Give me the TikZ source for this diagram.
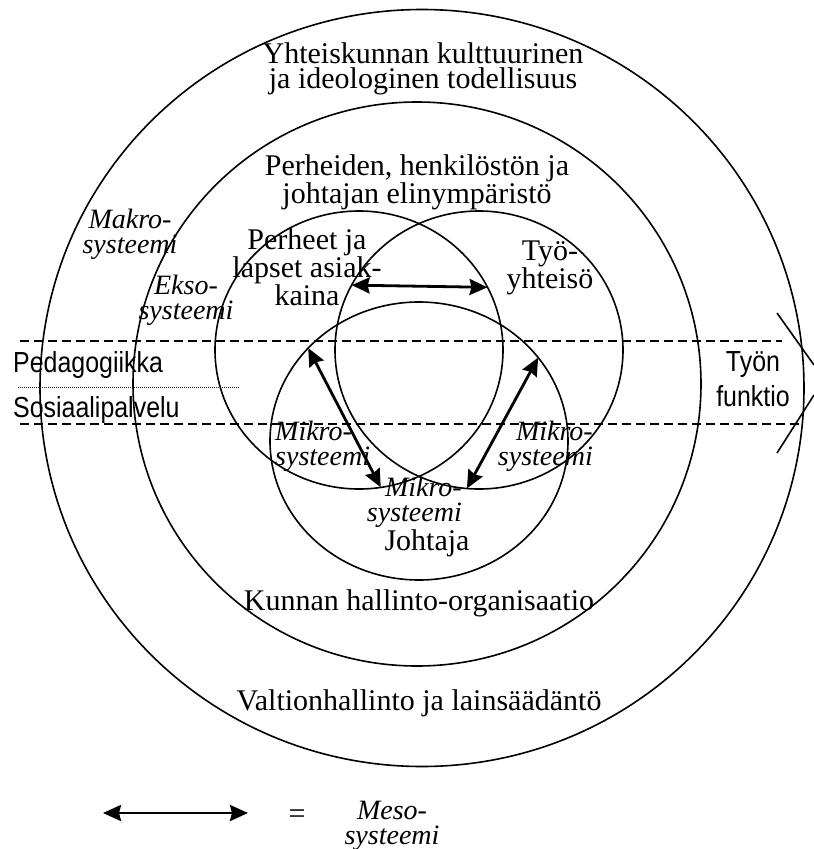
\documentclass[tikz,border=0pt]{standalone}
\usepackage{fontspec}
\setmainfont{Liberation Serif}
\newfontfamily\narrowsans[FakeStretch=0.86]{Liberation Sans}
\usetikzlibrary{shapes.geometric, arrows.meta, positioning}

\begin{document}
\begin{tikzpicture}[x=1pt, y=-1pt,
    ring/.style={ellipse, draw=black, line width=1.6pt, inner sep=0pt, outer sep=0pt},
    bigtext/.style={font=\fontsize{30}{25.5}\selectfont, align=center, inner sep=0pt},
    systext/.style={font=\fontsize{28}{25}\selectfont\itshape, align=center, inner sep=0pt},
    sanstext/.style={font=\fontsize{29}{35}\selectfont\narrowsans, align=center, inner sep=0pt},
    arrow/.style={{Stealth[length=18pt,width=16pt,inset=2pt]}-{Stealth[length=18pt,width=16pt,inset=2pt]}, line width=2.8pt},
    divider/.style={dash pattern=on 9pt off 5pt, line width=1.5pt}
]
    \useasboundingbox (0,0) rectangle (814,849);

    % Rings
    \node[ring, minimum width=764pt, minimum height=757pt] (makro) at (422,388) {};
    \node[ring, minimum width=568pt, minimum height=564pt] (ekso) at (417,384) {};
    \node[ring, minimum width=288pt, minimum height=278pt] (perheet) at (359,350) {};
    \node[ring, minimum width=288pt, minimum height=278pt] (tyo) at (479,350) {};
    \node[ring, minimum width=298pt, minimum height=278pt] (johtaja) at (419,441) {};

    % Work function band
    \coordinate (bandTL) at (20,341);
    \coordinate (bandTR) at (782,341);
    \coordinate (bandBL) at (20,424);
    \coordinate (bandBR) at (802,424);
    \draw[divider] (bandTL) -- (bandTR);
    \draw[divider] (bandBL) -- (bandBR);
    \draw[line width=1pt, black!85, dash pattern=on 1pt off 1pt] (18,387) -- (240,387);
    \draw[line width=1.6pt] (777,313) -- (814,365);
    \draw[line width=1.6pt] (777,453) -- (814,395);

    \node[sanstext, anchor=west] (pedagogiikka) at (13,365) {Pedagogiikka};
    \node[sanstext, anchor=west] (sosiaali) at (13,410) {Sosiaalipalvelu};
    \node[sanstext] (funktio) at (753,379) {Työn\\funktio};

    % Ring labels
    \node[bigtext] (kulttuuri) at (423,69) {Yhteiskunnan kulttuurinen\\ja ideologinen todellisuus};
    \node[bigtext] (elinymparisto) at (417,182) {Perheiden, henkilöstön ja\\johtajan elinympäristö};
    \node[bigtext] (asiakkaat) at (307,267) {Perheet ja\\lapset asiak-\\kaina};
    \node[bigtext] (yhteiso) at (550,268) {Työ-\\yhteisö};
    \node[bigtext] (johtajatxt) at (427,543) {Johtaja};
    \node[bigtext] (kunta) at (419,603) {Kunnan hallinto-organisaatio};
    \node[bigtext] (valtio) at (419,703) {Valtionhallinto ja lainsäädäntö};

    \node[systext] (makrotxt) at (130,234) {Makro-\\systeemi};
    \node[systext] (eksotxt) at (186,300) {Ekso-\\systeemi};
    \node[systext, align=left, anchor=west] (mikroL) at (275,446) {Mikro-\\systeemi};
    \node[systext, align=right, anchor=east] (mikroR) at (593,446) {Mikro-\\systeemi};
    \node[systext, align=right, anchor=east] (mikroC) at (462,502) {Mikro-\\systeemi};

    % Mesosystem arrows
    \draw[arrow] (tyo.153.4) -- (perheet.26.6);
    \draw[arrow] (johtaja.140.9) -- (perheet.-81);
    \draw[arrow] (johtaja.35.4) -- (tyo.-95);

    % Legend
    \coordinate (mesoL) at (103,813);
    \coordinate (mesoR) at (248,813);
    \draw[arrow] (mesoL) -- (mesoR);
    \node[bigtext] (equals) at (297,817) {=};
    \node[systext] (mesotxt) at (392,826) {Meso-\\systeemi};
\end{tikzpicture}
\end{document}
